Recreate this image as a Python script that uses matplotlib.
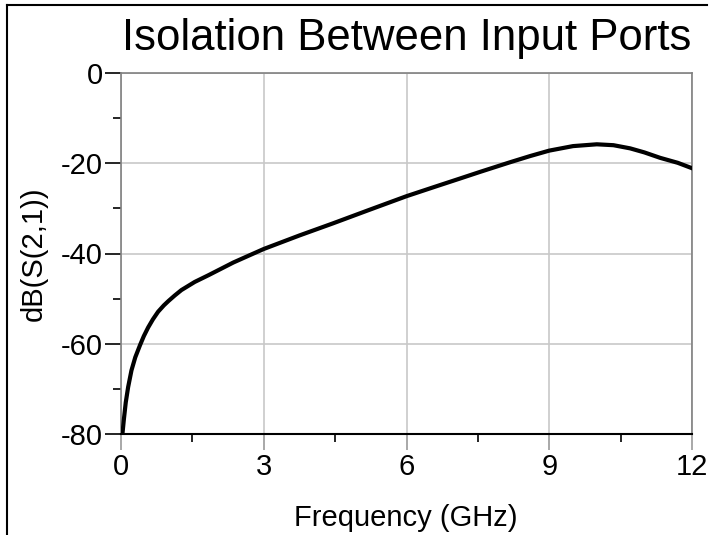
import numpy as np
import matplotlib.pyplot as plt
from matplotlib.lines import Line2D

## DATA
freq_ghz = [0.03, 0.06, 0.10, 0.15, 0.22, 0.30, 0.40, 0.48, 0.57, 0.67, 0.78, 0.90,
            1.0, 1.13, 1.27, 1.55, 1.84, 2.1, 2.36, 2.7, 3.0, 3.75, 4.46, 5.2,
            6.0, 6.6, 7.12, 7.55, 8.17, 8.6, 9.0, 9.5, 10.0, 10.35, 10.7, 11.0,
            11.33, 11.7, 12.0]
s21_db = [-80.0, -76.8, -73.0, -69.6, -65.9, -63.0, -60.3, -58.3, -56.4, -54.6, -52.9, -51.5,
          -50.5, -49.3, -48.1, -46.3, -44.8, -43.4, -42.0, -40.4, -39.0, -36.0, -33.3, -30.4,
          -27.3, -25.2, -23.4, -21.9, -19.8, -18.4, -17.2, -16.2, -15.8, -16.0, -16.7, -17.6,
          -18.8, -19.9, -21.1]

x_ticks = [0, 3, 6, 9, 12]
x_minor = [1.5, 4.5, 7.5, 10.5]
y_ticks = [0, -20, -40, -60, -80]
y_minor = [-10, -30, -50, -70]

plt.rcParams['font.family'] = ['Liberation Sans', 'DejaVu Sans']
plt.rcParams['axes.unicode_minus'] = False

fig = plt.figure(figsize=(7.09, 5.35), dpi=100)
ax = fig.add_axes([121/709, 1-434/535, (692-121)/709, (434-73)/535])

ax.plot(freq_ghz, s21_db, color='black', lw=3, solid_joinstyle='round', zorder=3)

ax.set_xlim(0, 12)
ax.set_ylim(-80, 0)
ax.set_xticks(x_ticks)
ax.set_xticks(x_minor, minor=True)
ax.set_yticks(y_ticks)
ax.set_yticks(y_minor, minor=True)
ax.grid(True, which='major', color='#c8c8c8', lw=1.2)

ax.tick_params(axis='x', which='major', length=11.5, width=1.2, color='#999999',
               labelsize=21, pad=2.5)
ax.tick_params(axis='y', which='major', length=11.5, width=1.2, color='black',
               labelsize=21, pad=1.5)
ax.tick_params(which='minor', length=6, width=1.2, color='black')

for side in ['left', 'top', 'right']:
    ax.spines[side].set_color('#808080')
    ax.spines[side].set_linewidth(1.2)
ax.spines['bottom'].set_color('black')
ax.spines['bottom'].set_linewidth(1.5)

## TITLE AND AXIS LABELS
fig.text(407/709, 1-50/535, 'Isolation Between Input Ports', fontsize=31.5,
         ha='center', va='baseline')
fig.text(406/709, 1-518/535, 'Frequency (GHz)', fontsize=21, ha='center', va='center')
fig.text(34/709, 1-254/535, 'dB(S(2,1))', fontsize=21, ha='center', va='center',
         rotation=90)

## OUTER FRAME (left and top edges)
fig.add_artist(Line2D([7/709, 7/709], [0, 1-5/535], transform=fig.transFigure, color='black', lw=1.5))
fig.add_artist(Line2D([7/709, 707/709], [1-5/535, 1-5/535], transform=fig.transFigure, color='black', lw=1.5))

fig.savefig('out.png', dpi=100)
